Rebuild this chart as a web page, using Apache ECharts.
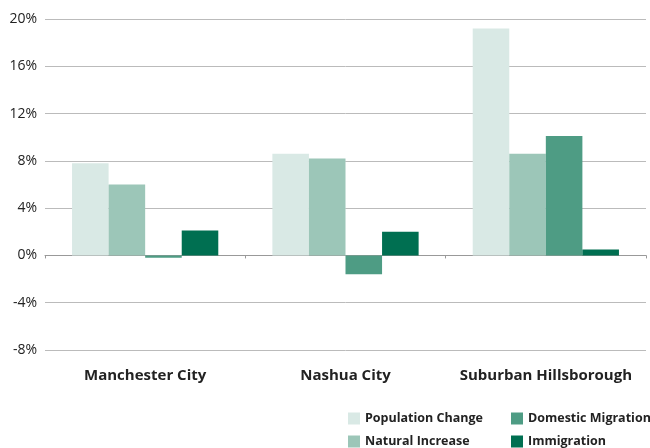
<!DOCTYPE html>
<html>
<head>
<meta charset="utf-8">
<script src="https://cdn.jsdelivr.net/npm/echarts@6/dist/echarts.min.js"></script>
<style>
html,body{margin:0;padding:0;background:#fff;}
#chart{width:650px;height:448px;}
</style>
</head>
<body>
<div id="chart"></div>
<script>
var categories = ['Manchester City', 'Nashua City', 'Suburban Hillsborough'];
var populationChange = [7.8, 8.6, 19.2];
var naturalIncrease = [6.0, 8.2, 8.6];
var domesticMigration = [-0.2, -1.6, 10.1];
var immigration = [2.1, 2.0, 0.5];
var yTicks = [-8, -4, 0, 4, 8, 12, 16, 20];

var colors = ['#d9e9e5', '#9cc6b8', '#4e9c84', '#006f51'];
var font = '"Open Sans", "DejaVu Sans", sans-serif';

var myChart = echarts.init(document.getElementById('chart'));

function bar(name, data) {
	return {
		name: name,
		type: 'bar',
		xAxisIndex: 0,
		barGap: 0,
		barCategoryGap: '27%',
		data: data
	};
}

var legendText = { fontFamily: font, fontSize: 12.5, fontWeight: 'bold', color: '#222' };

var option = {
	color: colors,
	animation: false,
	grid: {
		left: 45,
		right: 4,
		top: 19,
		bottom: 98
	},
	legend: [{
		orient: 'vertical',
		left: 348,
		bottom: 0,
		padding: 0,
		itemWidth: 12,
		itemHeight: 12,
		itemGap: 10,
		icon: 'rect',
		textStyle: legendText,
		data: ['Population Change', 'Natural Increase']
	}, {
		orient: 'vertical',
		left: 511,
		bottom: 0,
		padding: 0,
		itemWidth: 12,
		itemHeight: 12,
		itemGap: 10,
		icon: 'rect',
		textStyle: legendText,
		data: ['Domestic Migration', 'Immigration']
	}],
	xAxis: [{
		type: 'category',
		data: categories,
		axisLine: { onZero: true, lineStyle: { color: '#999', width: 1 } },
		axisTick: { show: true, length: 3, lineStyle: { color: '#999' } },
		axisLabel: { show: false }
	}, {
		type: 'category',
		data: categories,
		position: 'bottom',
		axisLine: { show: false, onZero: false },
		axisTick: { show: false },
		axisLabel: {
			interval: 0,
			margin: 18,
			fontFamily: font,
			fontSize: 15,
			fontWeight: 'bold',
			color: '#222'
		}
	}],
	yAxis: {
		type: 'value',
		min: yTicks[0],
		max: yTicks[yTicks.length - 1],
		interval: 4,
		axisLine: { show: false },
		axisTick: { show: false },
		splitLine: { lineStyle: { color: '#bbb', width: 1 } },
		axisLabel: {
			margin: 8,
			fontFamily: font,
			fontSize: 14,
			color: '#222',
			formatter: '{value}%'
		}
	},
	series: [
		bar('Population Change', populationChange),
		bar('Natural Increase', naturalIncrease),
		bar('Domestic Migration', domesticMigration),
		bar('Immigration', immigration)
	]
};

myChart.setOption(option);
</script>
</body>
</html>
